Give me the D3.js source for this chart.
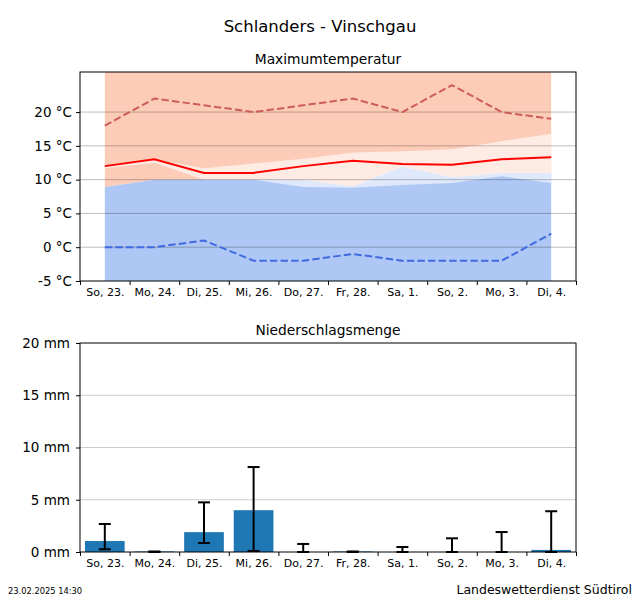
<!DOCTYPE html>
<html><head><meta charset="utf-8">
<script src="https://cdn.jsdelivr.net/npm/d3@7"></script>
<style>
body{margin:0;background:#fff;}
text{font-family:"DejaVu Sans",sans-serif;}
</style></head>
<body><svg id="c" width="640" height="600"></svg>
<script>
const days = ["So, 23.", "Mo, 24.", "Di, 25.", "Mi, 26.", "Do, 27.", "Fr, 28.", "Sa, 1.", "So, 2.", "Mo, 3.", "Di, 4."];
const tMax = [12.0, 13.0, 11.0, 11.0, 12.0, 12.8, 12.3, 12.2, 13.0, 13.3];
const tMaxHigh = [18, 22, 21, 20, 21, 22, 20, 24, 20, 19];
const tMinLow = [0, 0, 1, -2, -2, -1, -2, -2, -2, 2];
const warmColdBoundary = [8.9, 10.0, 10.0, 10.0, 10.0, 9.0, 11.9, 10.3, 11.0, 11.0];
const bandLow = [11.7, 12.5, 10.0, 10.0, 8.9, 8.8, 9.2, 9.5, 10.5, 9.5];
const bandHigh = [12.0, 13.0, 11.7, 12.4, 13.1, 14.0, 14.2, 14.5, 15.7, 16.8];
const tempTicks = [-5, 0, 5, 10, 15, 20];
const precip = [1.05, 0.05, 1.9, 4.0, 0, 0.05, 0, 0, 0, 0.2];
const precipLow = [0.26, 0, 0.86, 0.1, 0, 0, 0, 0, 0, 0];
const precipHigh = [2.68, 0.05, 4.75, 8.13, 0.77, 0.05, 0.48, 1.31, 1.91, 3.9];
const precipTicks = [0, 5, 10, 15, 20];

(function(){
const svg = d3.select("#c");
const idx = d3.range(days.length);
const x = d3.scaleLinear().domain([-0.5, 9.5]).range([80, 576]);
const yT = d3.scaleLinear().domain([-5, 25.93]).range([281, 72]);
const yP = d3.scaleLinear().domain([0, 20]).range([552, 343]);

svg.append("text").attr("x", 320).attr("y", 32).attr("text-anchor", "middle")
  .attr("font-size", 16.5).text("Schlanders - Vinschgau");

// ---------- top chart ----------
const gT = svg.append("g");
gT.append("text").attr("x", 328).attr("y", 64).attr("text-anchor", "middle")
  .attr("font-size", 13.8).text("Maximumtemperatur");

const yTop = yT.domain()[1];
gT.append("path").datum(idx).attr("fill", "#fdccb8")
  .attr("d", d3.area().x(i => x(i)).y0(i => yT(warmColdBoundary[i])).y1(() => yT(yTop)));
gT.append("path").datum(idx).attr("fill", "#aec7f4")
  .attr("d", d3.area().x(i => x(i)).y0(() => yT(-5)).y1(i => yT(warmColdBoundary[i])));
gT.append("path").datum(idx).attr("fill", "#ffffff").attr("opacity", 0.6)
  .attr("d", d3.area().x(i => x(i)).y0(i => yT(bandLow[i])).y1(i => yT(bandHigh[i])));

// grid
gT.selectAll(".g").data(tempTicks.filter(t => t > -5)).enter().append("line")
  .attr("x1", 80).attr("x2", 576).attr("y1", d => yT(d)).attr("y2", d => yT(d))
  .attr("stroke", "#000").attr("stroke-opacity", 0.25).attr("stroke-width", 1);

gT.append("path").datum(idx).attr("fill", "none").attr("stroke", "#cd5c5c")
  .attr("stroke-width", 2).attr("stroke-dasharray", "7.4,3.2")
  .attr("d", d3.line().x(i => x(i)).y(i => yT(tMaxHigh[i])));
gT.append("path").datum(idx).attr("fill", "none").attr("stroke", "#4169e1")
  .attr("stroke-width", 2).attr("stroke-dasharray", "7.4,3.2")
  .attr("d", d3.line().x(i => x(i)).y(i => yT(tMinLow[i])));
gT.append("path").datum(idx).attr("fill", "none").attr("stroke", "#ff0000")
  .attr("stroke-width", 2)
  .attr("d", d3.line().x(i => x(i)).y(i => yT(tMax[i])));

gT.append("rect").attr("x", 80).attr("y", 72).attr("width", 496).attr("height", 209)
  .attr("fill", "none").attr("stroke", "#000").attr("stroke-width", 1);

function xAxes(g, y0) {
  const b = g.append("g").attr("transform", `translate(0,${y0})`)
    .call(d3.axisBottom(x).tickValues(d3.range(-0.5, 10, 1)).tickFormat("").tickSize(4));
  b.select(".domain").remove();
  const l = g.append("g").attr("transform", `translate(0,${y0})`)
    .call(d3.axisBottom(x).tickValues(idx).tickFormat(i => days[i]).tickSize(0).tickPadding(7));
  l.select(".domain").remove();
  l.selectAll("text").attr("font-size", 11).attr("font-family", "DejaVu Sans");
}
xAxes(gT, 281);
const ya = gT.append("g").attr("transform", "translate(80,0)")
  .call(d3.axisLeft(yT).tickValues(tempTicks).tickFormat(d => d + " °C").tickSize(4).tickPadding(4));
ya.select(".domain").remove();
ya.selectAll("text").attr("font-size", 13.5).attr("font-family", "DejaVu Sans");

// ---------- bottom chart ----------
const gB = svg.append("g");
gB.append("text").attr("x", 328).attr("y", 335).attr("text-anchor", "middle")
  .attr("font-size", 13.8).text("Niederschlagsmenge");
gB.selectAll(".g").data(precipTicks.filter(t => t > 0 && t < 20)).enter().append("line")
  .attr("x1", 80).attr("x2", 576).attr("y1", d => yP(d)).attr("y2", d => yP(d))
  .attr("stroke", "#cccccc").attr("stroke-width", 1);
const bw = x(0.4) - x(-0.4);
gB.selectAll(".bar").data(idx).enter().append("rect")
  .attr("x", i => x(i) - bw / 2).attr("width", bw)
  .attr("y", i => yP(precip[i])).attr("height", i => yP(0) - yP(precip[i]))
  .attr("fill", "#1f77b4");
const eb = gB.selectAll(".eb").data(idx).enter().append("g").attr("stroke", "#000").attr("stroke-width", 2);
eb.append("line").attr("x1", i => x(i)).attr("x2", i => x(i))
  .attr("y1", i => yP(precipLow[i])).attr("y2", i => yP(precipHigh[i]));
eb.append("line").attr("x1", i => x(i) - 6).attr("x2", i => x(i) + 6)
  .attr("y1", i => yP(precipLow[i])).attr("y2", i => yP(precipLow[i]));
eb.append("line").attr("x1", i => x(i) - 6).attr("x2", i => x(i) + 6)
  .attr("y1", i => yP(precipHigh[i])).attr("y2", i => yP(precipHigh[i]));
gB.append("rect").attr("x", 80).attr("y", 343).attr("width", 496).attr("height", 209)
  .attr("fill", "none").attr("stroke", "#000").attr("stroke-width", 1);
xAxes(gB, 552);
const yb = gB.append("g").attr("transform", "translate(80,0)")
  .call(d3.axisLeft(yP).tickValues(precipTicks).tickFormat(d => d + " mm").tickSize(4).tickPadding(6));
yb.select(".domain").remove();
yb.selectAll("text").attr("font-size", 13.5).attr("font-family", "DejaVu Sans");

// footer
svg.append("text").attr("x", 8).attr("y", 594).attr("font-size", 8.3).text("23.02.2025 14:30");
svg.append("text").attr("x", 632).attr("y", 594).attr("text-anchor", "end")
  .attr("font-size", 12.5).text("Landeswetterdienst Südtirol");
})();
</script></body></html>
